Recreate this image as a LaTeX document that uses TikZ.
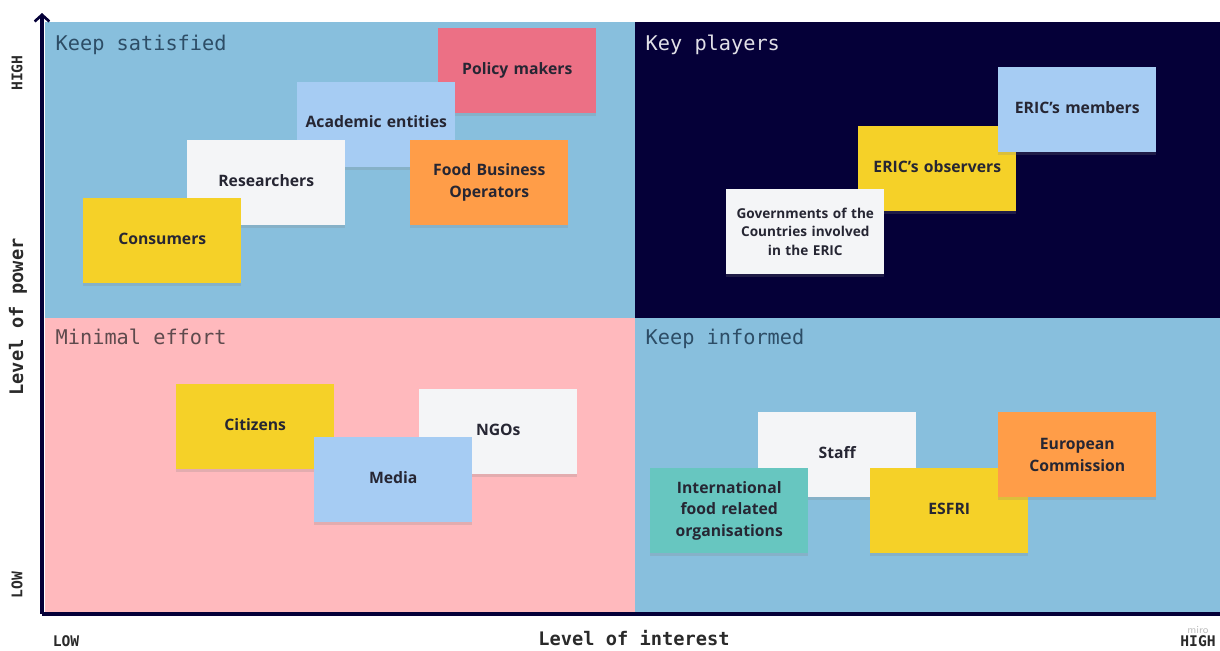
\documentclass[tikz,border=0pt]{standalone}
\usepackage{fontspec}
\setmainfont{Open Sans}
\setmonofont{DejaVu Sans Mono}
\usetikzlibrary{shadows,arrows.meta}
\definecolor{qblue}{HTML}{88BFDD}
\definecolor{qnavy}{HTML}{050038}
\definecolor{qpink}{HTML}{FFB9BD}
\definecolor{sblue}{HTML}{A6CCF3}
\definecolor{swhite}{HTML}{F4F5F7}
\definecolor{syellow}{HTML}{F5D128}
\definecolor{sorange}{HTML}{FF9D48}
\definecolor{sred}{HTML}{EC7085}
\definecolor{steal}{HTML}{67C6C0}
\definecolor{stext}{HTML}{262633}
\definecolor{qlabel}{HTML}{2D4D66}
\definecolor{plabel}{HTML}{5E4A4D}
\definecolor{axtext}{HTML}{2A2A2A}
\tikzset{
  sticky/.style={anchor=north west, minimum width=118.5pt, minimum height=63.75pt,
    text width=112pt, align=center, inner sep=0pt, font=\bfseries\fontsize{11.8}{16.3}\selectfont,
    text=stext, drop shadow={opacity=0.22, shadow xshift=0pt, shadow yshift=-2pt}},
  small/.style={font=\bfseries\fontsize{10.2}{13.9}\selectfont},
  quad/.style={anchor=base west, font=\ttfamily\fontsize{15.2}{17}\selectfont},
  axlab/.style={font=\ttfamily\bfseries\fontsize{14}{16}\selectfont, text=axtext},
  ticklab/.style={font=\ttfamily\bfseries\fontsize{11}{12}\selectfont, text=axtext, inner sep=1pt},
  axline/.style={line width=2.4pt, draw=qnavy}
}
\begin{document}
\begin{tikzpicture}[x=0.75pt,y=-0.75pt]
\useasboundingbox (0,0) rectangle (1220,650);
% quadrants
\fill[qblue] (45,22) rectangle (635,318);
\fill[qnavy] (635,22) rectangle (1220,318);
\fill[qpink] (45,318) rectangle (635,612);
\fill[qblue] (635,318) rectangle (1220,612);
% quadrant labels
\node[quad, text=qlabel] (ks) at (51,50) {Keep satisfied};
\node[quad, text=white!88!qnavy] (kp) at (641,50) {Key players};
\node[quad, text=plabel] (me) at (51,344) {Minimal effort};
\node[quad, text=qlabel] (ki) at (641,344) {Keep informed};
% top-left stickies
\node[sticky, fill=sred] (pol) at (438,28) {\raisebox{3pt}{Policy makers}};
\node[sticky, fill=sblue] (aca) at (297,82) {\raisebox{5pt}{Academic entities}};
\node[sticky, fill=swhite] (res) at (187,140) {\raisebox{3pt}{Researchers}};
\node[sticky, fill=sorange] (fbo) at (410,140) {Food Business\\Operators};
\node[sticky, fill=syellow] (con) at (83,198) {\raisebox{3pt}{Consumers}};
% top-right stickies
\node[sticky, fill=syellow] (obs) at (858,126) {\raisebox{3pt}{ERIC's observers}};
\node[sticky, fill=sblue] (mem) at (998,67) {\raisebox{3pt}{ERIC's members}};
\node[sticky, small, fill=swhite] (gov) at (726,189) {Governments of the\\Countries involved\\in the ERIC};
% bottom-left stickies
\node[sticky, fill=syellow] (cit) at (176,384) {\raisebox{3pt}{Citizens}};
\node[sticky, fill=swhite] (ngo) at (419,389) {\raisebox{3pt}{NGOs}};
\node[sticky, fill=sblue] (med) at (314,437) {\raisebox{3pt}{Media}};
% bottom-right stickies
\node[sticky, fill=swhite] (sta) at (758,412) {\raisebox{3pt}{Staff}};
\node[sticky, fill=syellow] (esf) at (870,468) {\raisebox{3pt}{ESFRI}};
\node[sticky, fill=sorange] (ec) at (998,412) {European\\Commission};
\node[sticky, fill=steal] (int) at (650,468) {International\\food related\\organisations};
% axes
\coordinate (o) at (42,614);
\coordinate (ytop) at (42,13);
\coordinate (xend) at (1220,614);
\draw[axline, -{Straight Barb[length=5pt,width=11pt,line width=2pt]}] (o) -- (ytop);
\draw[axline] (o) -- (xend);
% axis labels
\node[axlab, rotate=90] (yl) at (18,317) {Level of power};
\node[axlab] (xl) at (634,638) {Level of interest};
\node[ticklab, rotate=90] (yh) at (17,73) {HIGH};
\node[ticklab, rotate=90] (ylo) at (17,585) {LOW};
\node[ticklab] (xlo) at (66,641) {LOW};
\node[ticklab] (xh) at (1198,641) {HIGH};
\node[font=\sffamily\fontsize{8}{9}\selectfont, text=black!25] (miro) at (1198,630) {miro};
\end{tikzpicture}
\end{document}
